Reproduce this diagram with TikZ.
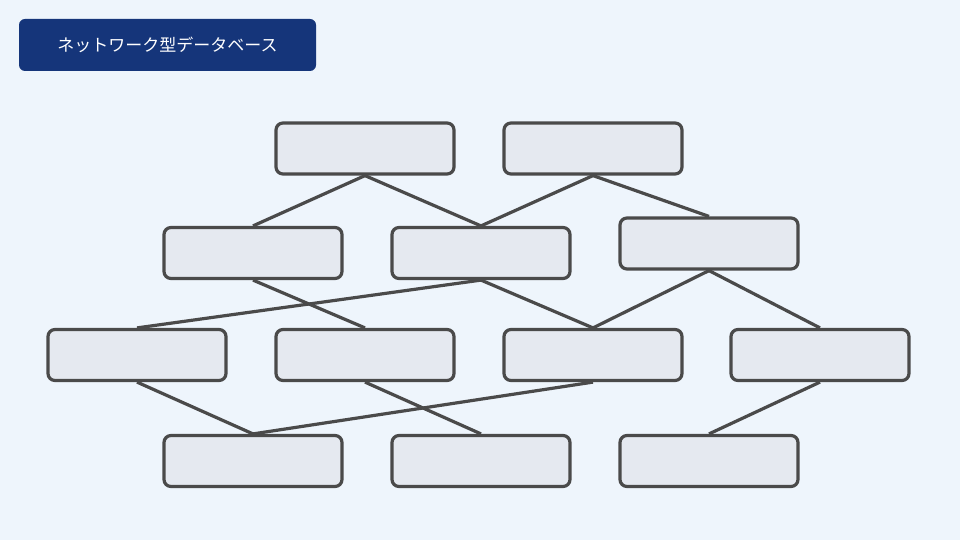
\documentclass[tikz,border=0pt]{standalone}
\usepackage{fontspec}
\usepackage{tikz}
\usetikzlibrary{positioning}
\newfontfamily\jpfont{Noto Sans CJK JP}
\definecolor{colorbg}{HTML}{EEF5FC}
\definecolor{colortitle}{HTML}{15357A}
\definecolor{colorline}{HTML}{4A4A4A}
\definecolor{colorbox}{HTML}{E5E9F0}
\tikzset{
  recbox/.style={draw=colorline, fill=colorbox, line width=3.2pt,
    rounded corners=7pt, minimum width=178pt, minimum height=51pt},
  link/.style={draw=colorline, line width=3.2pt}
}
\begin{document}
\begin{tikzpicture}[x=1pt, y=-1pt]

\fill[colorbg] (0, 0) rectangle (960, 540);
\useasboundingbox (0, 0) rectangle (960, 540);

\node[fill=colortitle, rounded corners=6pt, minimum width=297pt,
  minimum height=52pt, text=white, font=\jpfont\fontsize{17}{20}\selectfont]
  (title) at (167.5, 45) {ネットワーク型データベース};

% rows of records
\node[recbox] (a) at (365, 148.5) {};
\node[recbox] (b) at (593, 148.5) {};

\node[recbox] (c) at (253, 253) {};
\node[recbox] (d) at (481, 253) {};
\node[recbox] (e) at (709, 243.5) {};

\node[recbox] (f) at (137, 355) {};
\node[recbox] (g) at (365, 355) {};
\node[recbox] (h) at (593, 355) {};
\node[recbox] (i) at (820, 355) {};

\node[recbox] (j) at (253, 461) {};
\node[recbox] (k) at (481, 461) {};
\node[recbox] (l) at (709, 461) {};

\foreach \u/\v in {a/c, a/d, b/d, b/e, c/g, d/f, d/h, e/h, e/i,
                   f/j, g/k, h/j, i/l}
  \draw[link] (\u.south) -- (\v.north);

\end{tikzpicture}
\end{document}
